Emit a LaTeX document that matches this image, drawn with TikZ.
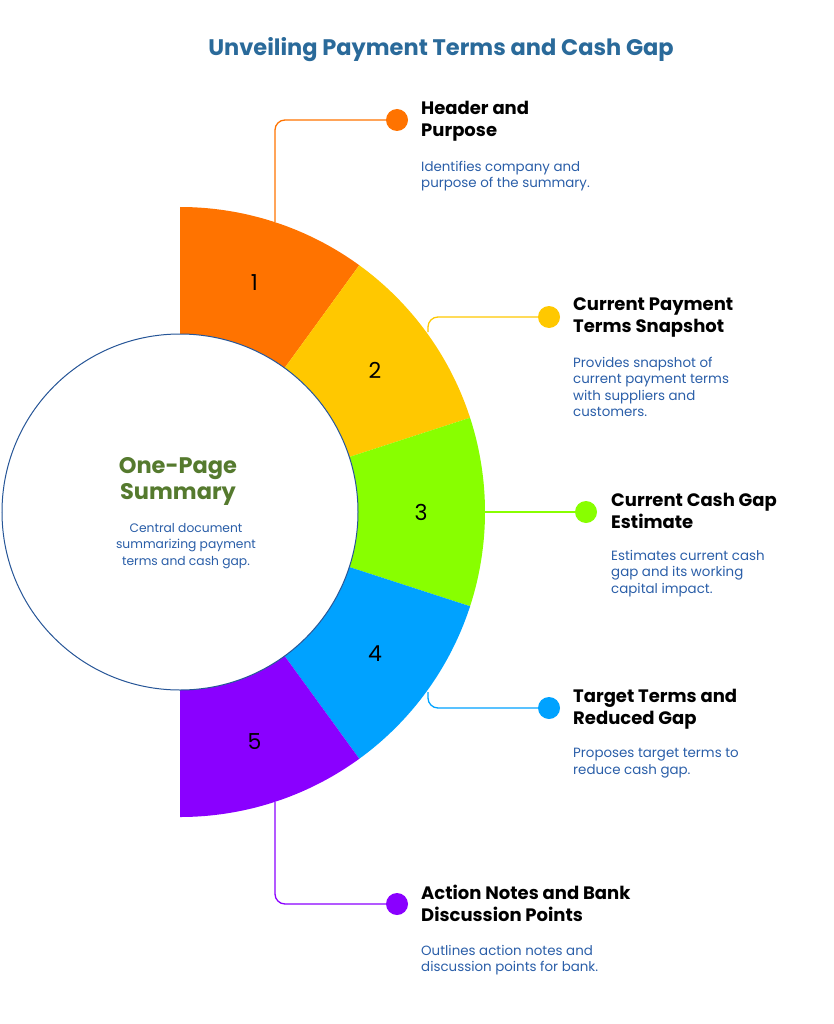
\documentclass[tikz,border=0pt]{standalone}
\usepackage{fontspec}
\setmainfont{Poppins}
\definecolor{c1}{HTML}{FF7300}
\definecolor{c2}{HTML}{FFC800}
\definecolor{c3}{HTML}{88FF00}
\definecolor{c4}{HTML}{00A2FF}
\definecolor{c5}{HTML}{8A00FF}
\definecolor{ttl}{HTML}{2A6A9A}
\definecolor{dsc}{HTML}{2A5EA8}
\definecolor{grn}{HTML}{557A2E}
\tikzset{
 head/.style={anchor=north west,align=left,font=\fontsize{18}{22}\selectfont\bfseries,inner sep=0pt},
 desc/.style={anchor=north west,align=left,font=\fontsize{13.4}{16.5}\selectfont,text=dsc,inner sep=0pt},
 conn/.style={line width=1.3pt,rounded corners=10pt},
 num/.style={font=\fontsize{22}{22}\selectfont}
}
\begin{document}
\begin{tikzpicture}[x=1pt,y=-1pt]
\useasboundingbox (0,0) rectangle (833,1024);
\node[font=\fontsize{22.5}{24}\selectfont\bfseries,text=ttl] (title) at (441,50) {Unveiling Payment Terms and Cash Gap};
\foreach \k/\c in {1/c1,2/c2,3/c3,4/c4,5/c5}{
 \pgfmathsetmacro\a{-90+36*(\k-1)}
 \pgfmathsetmacro\b{-90+36*\k}
 \fill[\c] ([shift={(180,512)}]\a:305) arc[start angle=\a,end angle=\b,radius=305] -- ([shift={(180,512)}]\b:178) arc[start angle=\b,end angle=\a,radius=178] -- cycle;
}
\foreach \k in {1,...,5}{
 \pgfmathsetmacro\m{-90+36*\k-18}
 \node[num] (n\k) at ([shift={(180,512)}]\m:241) {\k};
}
\node[circle,draw=dsc!90!black,line width=1pt,fill=white,minimum size=356pt,inner sep=0pt] (center) at (180,512) {};
\node[font=\fontsize{22.5}{26}\selectfont\bfseries,text=grn,align=center] (ct) at (178,481) {One-Page\\Summary};
\node[font=\fontsize{12.3}{16.5}\selectfont,text=dsc,align=center] (cd) at (186,546) {Central document\\summarizing payment\\terms and cash gap.};
\foreach \k/\c/\x/\y in {1/c1/397/120,2/c2/549/317,3/c3/586/512,4/c4/549/708,5/c5/397/904}{
 \fill[\c] (\x,\y) circle (11) coordinate (d\k);
}
\coordinate (s1) at (275,222);
\coordinate (s2) at (428,332);
\coordinate (s3) at (485,512);
\coordinate (s4) at (428,692);
\coordinate (s5) at (275,802);
\draw[conn,c1] (s1) -- (275,120) -- (d1);
\draw[conn,c2] (s2) -- (428,317) -- (d2);
\draw[conn,c3] (s3) -- (d3);
\draw[conn,c4] (s4) -- (428,708) -- (d4);
\draw[conn,c5] (s5) -- (275,904) -- (d5);
\node[head] (h1) at (421,101) {Header and\\Purpose};
\node[desc] (t1) at (421,161) {Identifies company and\\purpose of the summary.};
\node[head] (h2) at (573,298) {Current Payment\\Terms Snapshot};
\node[desc] (t2) at (573,357) {Provides snapshot of\\current payment terms\\with suppliers and\\customers.};
\node[head] (h3) at (611,493) {Current Cash Gap\\Estimate};
\node[desc] (t3) at (611,550) {Estimates current cash\\gap and its working\\capital impact.};
\node[head] (h4) at (573,689) {Target Terms and\\Reduced Gap};
\node[desc] (t4) at (573,748) {Proposes target terms to\\reduce cash gap.};
\node[head] (h5) at (421,885) {Action Notes and Bank\\Discussion Points};
\node[desc] (t5) at (421,945) {Outlines action notes and\\discussion points for bank.};
\end{tikzpicture}
\end{document}
